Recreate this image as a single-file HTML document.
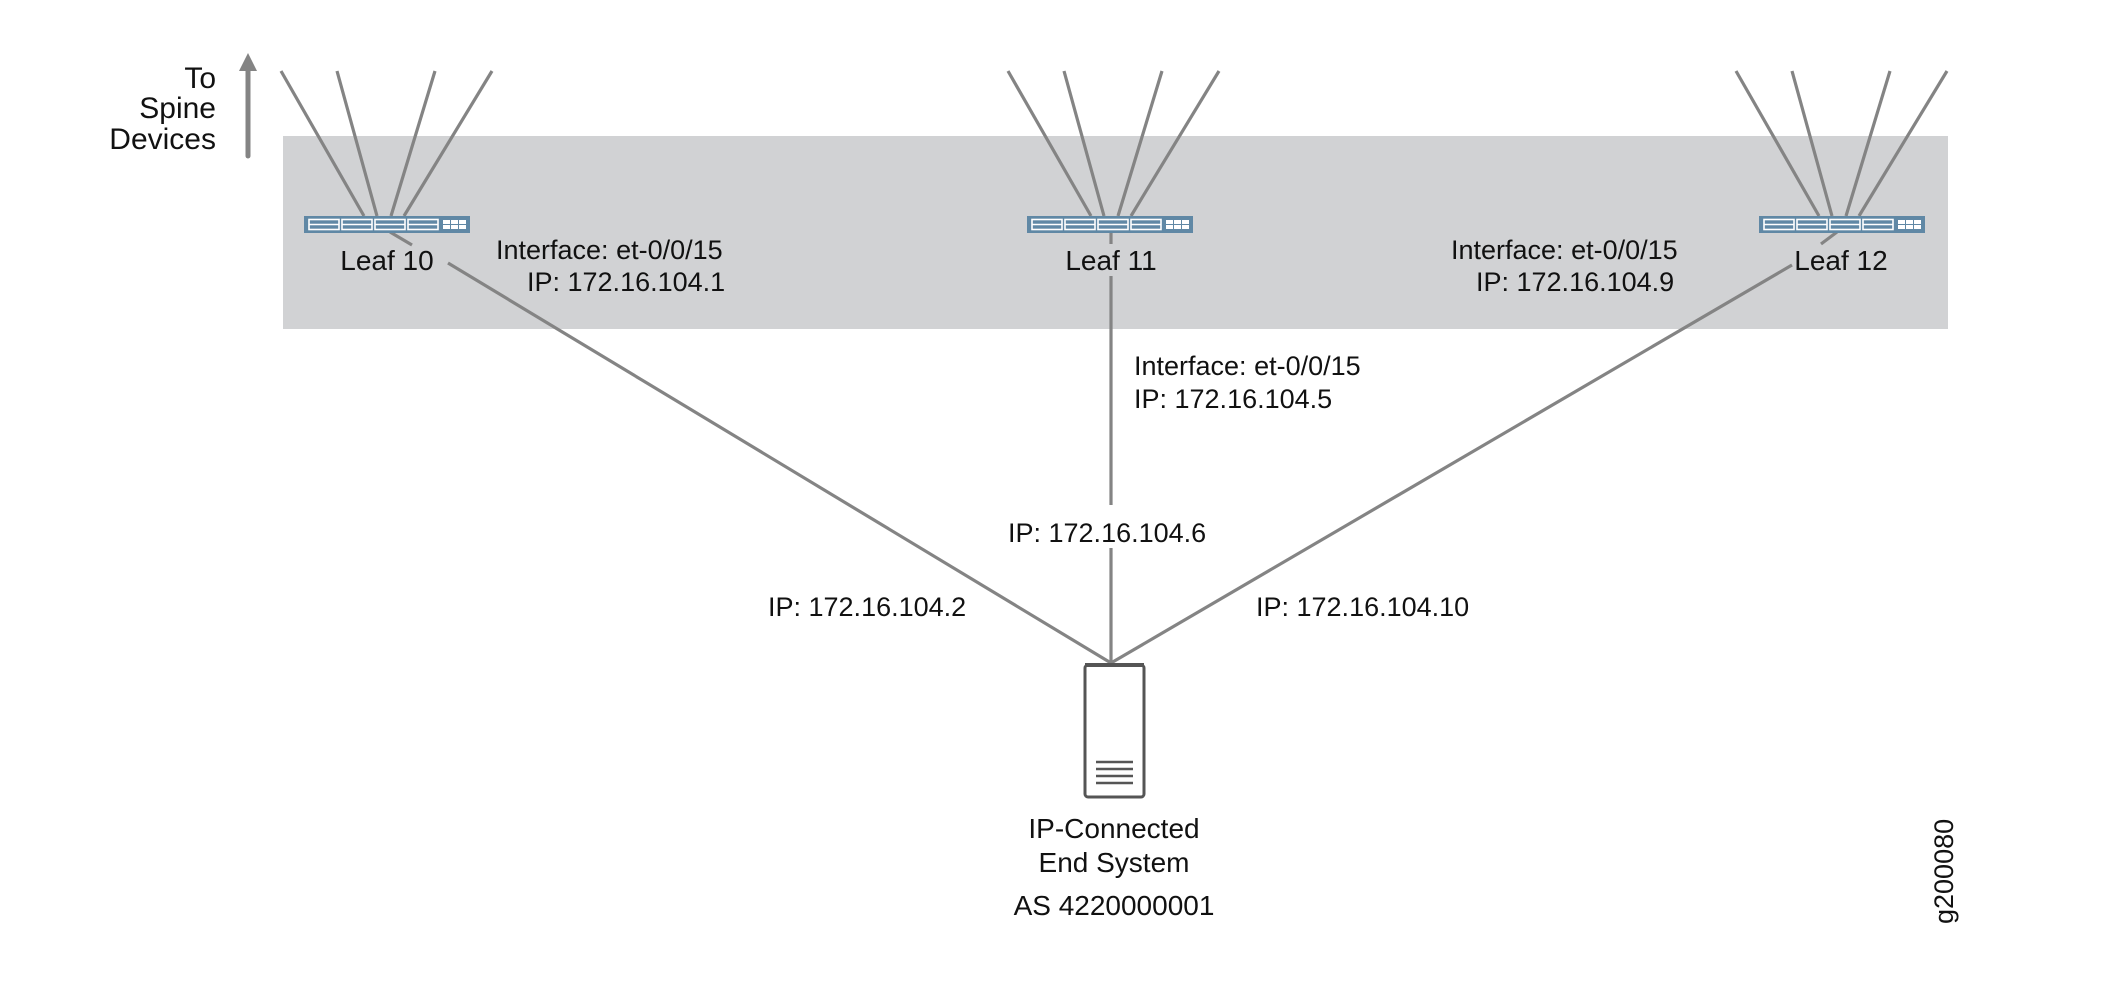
<!DOCTYPE html>
<html><head><meta charset="utf-8"><style>
html,body{margin:0;padding:0;background:#fff;}
svg{display:block;}
text{font-family:"Liberation Sans",sans-serif;fill:#111;}
</style></head><body>
<svg width="2101" height="982" viewBox="0 0 2101 982" xmlns="http://www.w3.org/2000/svg">
<defs>
<g id="sw">
<rect x="0" y="0" width="166" height="17" fill="#6088a5"/>
<g fill="none" stroke="#fff" stroke-width="1.6">
<rect x="5" y="3.5" width="30" height="10"/><line x1="5" y1="8.5" x2="35" y2="8.5"/>
<rect x="38" y="3.5" width="30" height="10"/><line x1="38" y1="8.5" x2="68" y2="8.5"/>
<rect x="71" y="3.5" width="30" height="10"/><line x1="71" y1="8.5" x2="101" y2="8.5"/>
<rect x="104" y="3.5" width="30" height="10"/><line x1="104" y1="8.5" x2="134" y2="8.5"/>
</g>
<g fill="#fff"><rect x="139" y="4" width="7" height="4"/><rect x="147" y="4" width="7" height="4"/><rect x="155" y="4" width="7" height="4"/>
<rect x="139" y="9" width="7" height="4"/><rect x="147" y="9" width="7" height="4"/><rect x="155" y="9" width="7" height="4"/></g>
</g>
</defs>
<rect x="283" y="136" width="1665" height="193" fill="#d1d2d4"/>
<line x1="248" y1="156" x2="248" y2="68" stroke="#848484" stroke-width="5" stroke-linecap="round"/>
<polygon points="248,53 239,71 257,71" fill="#848484"/>
<g font-size="30" text-anchor="end">
<text x="216" y="88">To</text><text x="216" y="118">Spine</text><text x="216" y="149">Devices</text>
</g>
<g stroke="#848484" stroke-width="3.2" fill="none">
<line x1="281" y1="71" x2="364" y2="216"/><line x1="337" y1="71" x2="377" y2="216"/><line x1="435" y1="71" x2="391" y2="216"/><line x1="492" y1="71" x2="404" y2="216"/>
<line x1="1008" y1="71" x2="1091" y2="216"/><line x1="1064" y1="71" x2="1104" y2="216"/><line x1="1162" y1="71" x2="1118" y2="216"/><line x1="1219" y1="71" x2="1131" y2="216"/>
<line x1="1736" y1="71" x2="1819" y2="216"/><line x1="1792" y1="71" x2="1832" y2="216"/><line x1="1890" y1="71" x2="1846" y2="216"/><line x1="1947" y1="71" x2="1859" y2="216"/>
<line x1="390" y1="232" x2="412" y2="245"/>
<line x1="448" y1="263" x2="1111" y2="663"/>
<line x1="1111" y1="232" x2="1111" y2="244"/>
<line x1="1111" y1="276" x2="1111" y2="505"/>
<line x1="1111" y1="548" x2="1111" y2="663"/>
<line x1="1837" y1="232" x2="1821" y2="244"/>
<line x1="1792" y1="265" x2="1111" y2="663"/>
</g>
<use href="#sw" x="304" y="216"/>
<use href="#sw" x="1027" y="216"/>
<use href="#sw" x="1759" y="216"/>
<g font-size="28" text-anchor="middle">
<text x="387" y="270">Leaf 10</text>
<text x="1111" y="270">Leaf 11</text>
<text x="1841" y="270">Leaf 12</text>
</g>
<g font-size="27">
<text x="496" y="259">Interface: et-0/0/15</text>
<text x="527" y="291">IP: 172.16.104.1</text>
<text x="1451" y="259">Interface: et-0/0/15</text>
<text x="1476" y="291">IP: 172.16.104.9</text>
<text x="1134" y="375">Interface: et-0/0/15</text>
<text x="1134" y="408">IP: 172.16.104.5</text>
<text x="1008" y="542">IP: 172.16.104.6</text>
<text x="768" y="616">IP: 172.16.104.2</text>
<text x="1256" y="616">IP: 172.16.104.10</text>
</g>
<rect x="1085" y="665" width="59" height="132" rx="3" fill="#fff" stroke="#555" stroke-width="3"/>
<line x1="1085" y1="665" x2="1144" y2="665" stroke="#555" stroke-width="4"/>
<g stroke="#555" stroke-width="2.5"><line x1="1096" y1="762" x2="1133" y2="762"/><line x1="1096" y1="769" x2="1133" y2="769"/><line x1="1096" y1="776" x2="1133" y2="776"/><line x1="1096" y1="783" x2="1133" y2="783"/></g>
<g font-size="28" text-anchor="middle">
<text x="1114" y="838">IP-Connected</text>
<text x="1114" y="872">End System</text>
<text x="1114" y="915">AS 4220000001</text>
</g>
<text x="0" y="0" font-size="27" transform="translate(1953,924) rotate(-90)">g200080</text>
</svg>
</body></html>
